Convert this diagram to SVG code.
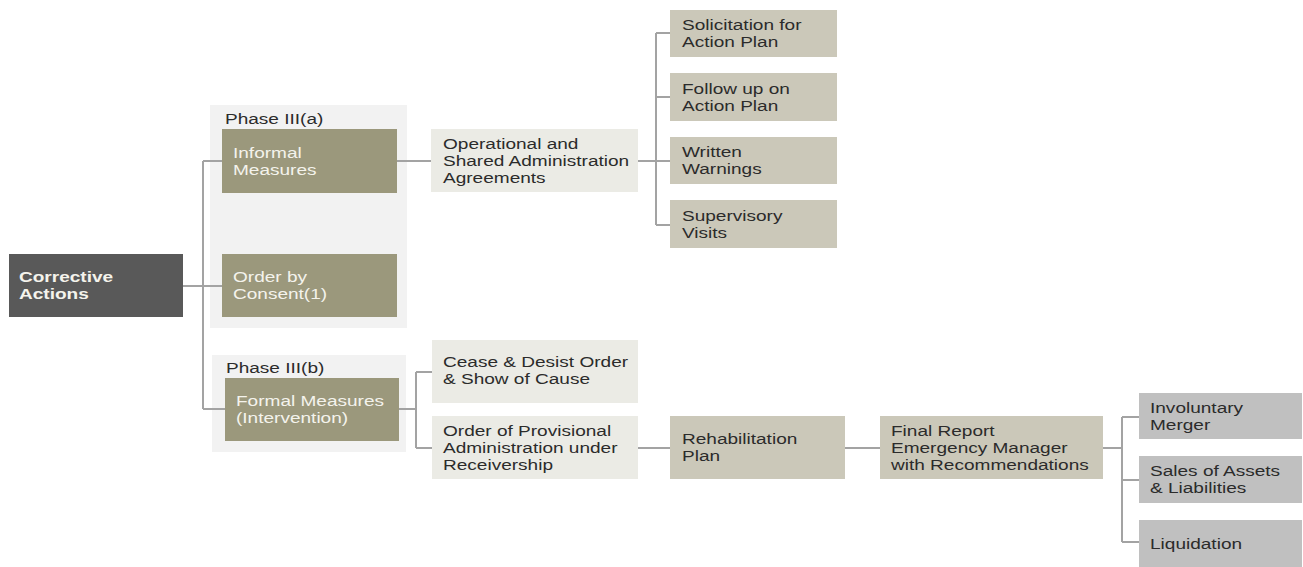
<svg xmlns="http://www.w3.org/2000/svg" width="1303" height="567" viewBox="0 0 1303 567">
<style>
text{font-family:"Liberation Sans",Arial,sans-serif;font-size:15px;fill:#2b2b2b}
.w{fill:#f4f3ec}
.b{font-weight:bold}
.dark{fill:#595959}
.olive{fill:#9b987c}
.light{fill:#ebebe5}
.beige{fill:#cbc8b9}
.gray{fill:#c0c0c0}
.phase{fill:#f2f2f2}
.conn{fill:none;stroke:#a3a3a3;stroke-width:2}
</style>
<rect width="1303" height="567" fill="#ffffff"/>
<g id="phase-a"><rect class="phase" x="210" y="105" width="197" height="223"/><text transform="matrix(1.27 0 0 1 225 124)">Phase III(a)</text></g>
<g id="phase-b"><rect class="phase" x="212" y="355" width="194" height="97"/><text transform="matrix(1.27 0 0 1 226 373)">Phase III(b)</text></g>
<g id="connectors">
<path class="conn" d="M183 286H222M203 161V409M203 161H222M203 409H225"/>
<path class="conn" d="M397 161H431"/>
<path class="conn" d="M638 161H656M656 33V225M656 33H670M656 97H670M656 161H670M656 225H670"/>
<path class="conn" d="M399 409H416M416 372V448M416 372H432M416 448H432"/>
<path class="conn" d="M638 448H670M845 448H880"/>
<path class="conn" d="M1103 448H1122M1122 417V542M1122 417H1139M1122 480H1139M1122 542H1139"/>
</g>
<g id="corrective"><rect class="dark" x="9" y="254" width="174" height="63"/><text class="w b" transform="matrix(1.27 0 0 1 19 0)"><tspan x="0" y="282">Corrective</tspan><tspan x="0" y="299">Actions</tspan></text></g>
<g id="informal"><rect class="olive" x="222" y="129" width="175" height="64"/><text class="w" transform="matrix(1.27 0 0 1 233 0)"><tspan x="0" y="158">Informal</tspan><tspan x="0" y="175">Measures</tspan></text></g>
<g id="consent"><rect class="olive" x="222" y="254" width="175" height="63"/><text class="w" transform="matrix(1.27 0 0 1 233 0)"><tspan x="0" y="282">Order by</tspan><tspan x="0" y="299">Consent(1)</tspan></text></g>
<g id="formal"><rect class="olive" x="225" y="378" width="174" height="63"/><text class="w" transform="matrix(1.27 0 0 1 236 0)"><tspan x="0" y="406">Formal Measures</tspan><tspan x="0" y="423">(Intervention)</tspan></text></g>
<g id="operational"><rect class="light" x="431" y="129" width="207" height="63"/><text transform="matrix(1.27 0 0 1 443 0)"><tspan x="0" y="149">Operational and</tspan><tspan x="0" y="166">Shared Administration</tspan><tspan x="0" y="183">Agreements</tspan></text></g>
<g id="solicitation"><rect class="beige" x="670" y="10" width="167" height="47"/><text transform="matrix(1.27 0 0 1 682 0)"><tspan x="0" y="30">Solicitation for</tspan><tspan x="0" y="47">Action Plan</tspan></text></g>
<g id="followup"><rect class="beige" x="670" y="73" width="167" height="48"/><text transform="matrix(1.27 0 0 1 682 0)"><tspan x="0" y="94">Follow up on</tspan><tspan x="0" y="111">Action Plan</tspan></text></g>
<g id="written"><rect class="beige" x="670" y="137" width="167" height="47"/><text transform="matrix(1.27 0 0 1 682 0)"><tspan x="0" y="157">Written</tspan><tspan x="0" y="174">Warnings</tspan></text></g>
<g id="supervisory"><rect class="beige" x="670" y="200" width="167" height="48"/><text transform="matrix(1.27 0 0 1 682 0)"><tspan x="0" y="221">Supervisory</tspan><tspan x="0" y="238">Visits</tspan></text></g>
<g id="cease"><rect class="light" x="432" y="340" width="206" height="63"/><text transform="matrix(1.27 0 0 1 443 0)"><tspan x="0" y="367">Cease &amp; Desist Order</tspan><tspan x="0" y="384">&amp; Show of Cause</tspan></text></g>
<g id="provisional"><rect class="light" x="432" y="416" width="206" height="63"/><text transform="matrix(1.27 0 0 1 443 0)"><tspan x="0" y="436">Order of Provisional</tspan><tspan x="0" y="453">Administration under</tspan><tspan x="0" y="470">Receivership</tspan></text></g>
<g id="rehab"><rect class="beige" x="670" y="416" width="175" height="63"/><text transform="matrix(1.27 0 0 1 682 0)"><tspan x="0" y="444">Rehabilitation</tspan><tspan x="0" y="461">Plan</tspan></text></g>
<g id="final"><rect class="beige" x="880" y="416" width="223" height="63"/><text transform="matrix(1.27 0 0 1 891 0)"><tspan x="0" y="436">Final Report</tspan><tspan x="0" y="453">Emergency Manager</tspan><tspan x="0" y="470">with Recommendations</tspan></text></g>
<g id="merger"><rect class="gray" x="1139" y="393" width="163" height="46"/><text transform="matrix(1.27 0 0 1 1150 0)"><tspan x="0" y="413">Involuntary</tspan><tspan x="0" y="430">Merger</tspan></text></g>
<g id="sales"><rect class="gray" x="1139" y="456" width="163" height="47"/><text transform="matrix(1.27 0 0 1 1150 0)"><tspan x="0" y="476">Sales of Assets</tspan><tspan x="0" y="493">&amp; Liabilities</tspan></text></g>
<g id="liquidation"><rect class="gray" x="1139" y="520" width="163" height="47"/><text transform="matrix(1.27 0 0 1 1150 0)"><tspan x="0" y="549">Liquidation</tspan></text></g>
</svg>
